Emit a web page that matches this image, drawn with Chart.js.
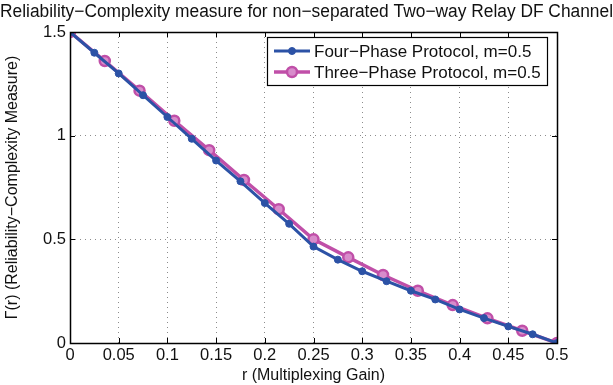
<!DOCTYPE html>
<html>
<head>
<meta charset="utf-8">
<script src="https://cdn.jsdelivr.net/npm/chart.js@4"></script>
<style>
  html, body { margin: 0; padding: 0; background: #fff; }
  #wrap { width: 613px; height: 385px; }
</style>
</head>
<body>
<div id="wrap"><canvas id="chart" width="613" height="385"></canvas></div>
<script>
/* ===== data ===== */
const titleText = 'Reliability\u2212Complexity measure for non\u2212separated Two\u2212way Relay DF Channel';
const xLabel = 'r (Multiplexing Gain)';
const yLabel = '\u0393(r) (Reliability\u2212Complexity Measure)';

// four-phase: r = 0, 0.025, ..., 0.5
const fourR = [0, 0.025, 0.05, 0.075, 0.1, 0.125, 0.15, 0.175, 0.2, 0.225, 0.25,
  0.275, 0.3, 0.325, 0.35, 0.375, 0.4, 0.425, 0.45, 0.475, 0.5];
const fourVals = [1.5, 1.40, 1.30, 1.195, 1.09, 0.985, 0.88, 0.78, 0.675, 0.575, 0.465,
  0.402, 0.346, 0.298, 0.252, 0.21, 0.162, 0.12, 0.08, 0.042, 0];

// three-phase: r = k/28
const threeR = [0, 0.0357, 0.0714, 0.1071, 0.1429, 0.1786, 0.2143, 0.25,
  0.2857, 0.3214, 0.3571, 0.3929, 0.4286, 0.4643, 0.5];
const threeVals = [1.5, 1.36, 1.217, 1.072, 0.93, 0.786, 0.645, 0.50,
  0.413, 0.328, 0.252, 0.183, 0.119, 0.059, 0];

const xTicks = [0, 0.05, 0.1, 0.15, 0.2, 0.25, 0.3, 0.35, 0.4, 0.45, 0.5];
const yTicks = [0, 0.5, 1, 1.5];

const seriesNames = ['Four\u2212Phase Protocol, m=0.5', 'Three\u2212Phase Protocol, m=0.5'];

const FONT = 'Liberation Sans, Arial, Helvetica, sans-serif';
const BLUE = '#2c52a6';
const PURPLE = '#c04fa8';

function toPoints(xs, ys) {
  return xs.map((x, i) => ({ x: x, y: ys[i] }));
}

/* ===== frame + inward ticks ===== */
const framePlugin = {
  id: 'frame',
  afterDatasetsDraw(chart) {
    const { ctx, chartArea: a, scales } = chart;
    ctx.save();
    ctx.strokeStyle = '#000';
    ctx.lineWidth = 1;
    ctx.beginPath();
    xTicks.forEach(v => {
      const px = Math.round(scales.x.getPixelForValue(v)) + 0.5;
      ctx.moveTo(px, a.bottom); ctx.lineTo(px, a.bottom - 5);
      ctx.moveTo(px, a.top); ctx.lineTo(px, a.top + 5);
    });
    yTicks.forEach(v => {
      const py = Math.round(scales.y.getPixelForValue(v)) + 0.5;
      ctx.moveTo(a.left, py); ctx.lineTo(a.left + 5, py);
      ctx.moveTo(a.right, py); ctx.lineTo(a.right - 5, py);
    });
    ctx.stroke();
    ctx.lineWidth = 1.5;
    ctx.strokeRect(Math.round(a.left) + 0.5, Math.round(a.top) + 0.5,
      Math.round(a.right - a.left), Math.round(a.bottom - a.top));
    ctx.restore();
  }
};

/* ===== legend box like matlab ===== */
const boxLegend = {
  id: 'boxLegend',
  afterDraw(chart) {
    const { ctx, chartArea: a } = chart;
    const w = 280, h = 48;
    const x0 = a.right - 10 - w, y0 = a.top + 5;
    ctx.save();
    ctx.fillStyle = '#fff';
    ctx.fillRect(x0, y0, w, h);
    ctx.strokeStyle = '#000';
    ctx.lineWidth = 1.2;
    ctx.strokeRect(x0 + 0.5, y0 + 0.5, w, h);
    chart.data.datasets.forEach((ds, i) => {
      const cy = y0 + 14 + i * 21;
      ctx.strokeStyle = ds.borderColor;
      ctx.lineWidth = ds.borderWidth;
      ctx.beginPath();
      ctx.moveTo(x0 + 7, cy); ctx.lineTo(x0 + 43, cy);
      ctx.stroke();
      ctx.beginPath();
      ctx.arc(x0 + 25, cy, ds.pointRadius, 0, Math.PI * 2);
      ctx.fillStyle = ds.pointBackgroundColor;
      ctx.fill();
      ctx.lineWidth = ds.pointBorderWidth;
      ctx.strokeStyle = ds.pointBorderColor;
      ctx.stroke();
      ctx.fillStyle = '#111';
      ctx.font = '17px ' + FONT;
      ctx.textBaseline = 'middle';
      ctx.fillText(ds.label, x0 + 47, cy + 1);
    });
    ctx.restore();
  }
};

const chart = new Chart(document.getElementById('chart').getContext('2d'), {
  type: 'line',
  data: {
    datasets: [
      {
        label: seriesNames[0],
        data: toPoints(fourR, fourVals),
        borderColor: BLUE,
        backgroundColor: BLUE,
        borderWidth: 3,
        pointRadius: 3.5,
        pointBackgroundColor: BLUE,
        pointBorderColor: BLUE,
        pointBorderWidth: 1,
        tension: 0
      },
      {
        label: seriesNames[1],
        data: toPoints(threeR, threeVals),
        borderColor: PURPLE,
        backgroundColor: PURPLE,
        borderWidth: 3.5,
        pointRadius: 5,
        pointBackgroundColor: '#d88ccb',
        pointBorderColor: PURPLE,
        pointBorderWidth: 2.5,
        tension: 0
      }
    ]
  },
  options: {
    animation: false,
    responsive: false,
    devicePixelRatio: 1,
    layout: { padding: 0 },
    plugins: {
      legend: { display: false },
      tooltip: { enabled: false },
      title: {
        display: true,
        text: titleText,
        color: '#111',
        font: { family: FONT, size: 18, weight: 'normal' },
        padding: { top: 1, bottom: 9.4 }
      }
    },
    scales: {
      x: {
        type: 'linear',
        min: 0,
        max: 0.5,
        afterBuildTicks: s => { s.ticks = xTicks.map(v => ({ value: v })); },
        afterFit: s => { s.height = 42; },
        ticks: {
          color: '#111',
          padding: 3,
          font: { family: FONT, size: 16.5 },
          callback: v => String(v)
        },
        grid: { color: '#8c8c8c', lineWidth: 1, drawTicks: false },
        border: { display: false, dash: [1, 4] },
        title: {
          display: true,
          text: xLabel,
          color: '#111',
          font: { family: FONT, size: 16 },
          padding: { top: -2, bottom: 0 }
        }
      },
      y: {
        type: 'linear',
        min: 0,
        max: 1.5,
        afterBuildTicks: s => { s.ticks = yTicks.map(v => ({ value: v })); },
        afterFit: s => { s.width = 70; },
        ticks: {
          color: '#111',
          padding: 4,
          font: { family: FONT, size: 16.5 },
          callback: v => String(v)
        },
        grid: { color: '#8c8c8c', lineWidth: 1, drawTicks: false },
        border: { display: false, dash: [1, 4] },
        title: {
          display: true,
          text: yLabel,
          color: '#111',
          font: { family: FONT, size: 16 },
          padding: { top: 3, bottom: 4 }
        }
      },
      // empty right-hand margin so the title centres on the whole figure
      yRight: {
        type: 'linear',
        position: 'right',
        min: 0,
        max: 1.5,
        afterFit: s => { s.width = 56; },
        ticks: { display: false },
        grid: { display: false },
        border: { display: false }
      }
    }
  },
  plugins: [framePlugin, boxLegend]
});
</script>
</body>
</html>
